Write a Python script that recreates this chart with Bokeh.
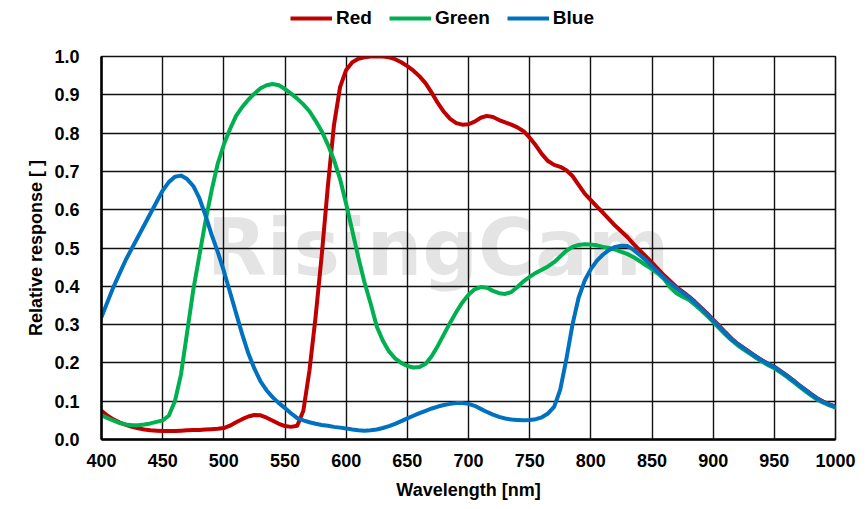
from bokeh.plotting import figure
from bokeh.layouts import column
from bokeh.models import Range1d, FixedTicker, Legend, LegendItem, Label, NumeralTickFormatter
from bokeh.embed import file_html
from bokeh.resources import INLINE

# wavelength sampling grid [nm]
wavelength = list(range(400, 1001, 5))

red = [
    0.075, 0.062, 0.052, 0.044, 0.038, 0.033, 0.029, 0.026, 0.024, 0.023,
    0.022, 0.022, 0.022, 0.023, 0.024, 0.025, 0.025, 0.026, 0.027, 0.028,
    0.030, 0.036, 0.045, 0.053, 0.060, 0.064, 0.063, 0.057, 0.049, 0.041,
    0.035, 0.033, 0.036, 0.075, 0.18, 0.32, 0.48, 0.66, 0.82, 0.92,
    0.965, 0.985, 0.994, 0.998, 1.0, 1.0, 1.0, 0.998, 0.993, 0.985,
    0.975, 0.963, 0.948, 0.93, 0.905, 0.878, 0.855, 0.837, 0.826, 0.822,
    0.823, 0.830, 0.840, 0.845, 0.842, 0.834, 0.828, 0.822, 0.815, 0.805,
    0.788, 0.768, 0.745, 0.727, 0.717, 0.712, 0.703, 0.688, 0.665, 0.642,
    0.625, 0.608, 0.592, 0.575, 0.558, 0.543, 0.528, 0.510, 0.494, 0.478,
    0.462, 0.445, 0.428, 0.413, 0.398, 0.386, 0.374, 0.360, 0.345, 0.330,
    0.313, 0.297, 0.280, 0.264, 0.250, 0.239, 0.228, 0.217, 0.207, 0.198,
    0.190, 0.179, 0.168, 0.156, 0.143, 0.131, 0.119, 0.108, 0.099, 0.092,
    0.086,
]

green = [
    0.063, 0.056, 0.049, 0.043, 0.039, 0.037, 0.037, 0.039, 0.042, 0.046,
    0.050, 0.062, 0.10, 0.17, 0.28, 0.39, 0.48, 0.57, 0.65, 0.72,
    0.77, 0.81, 0.845, 0.868, 0.887, 0.903, 0.917, 0.925, 0.928, 0.925,
    0.915, 0.903, 0.890, 0.875, 0.857, 0.832, 0.805, 0.77, 0.73, 0.68,
    0.615, 0.545, 0.475, 0.41, 0.355, 0.295, 0.258, 0.230, 0.212, 0.200,
    0.192, 0.188, 0.189, 0.198, 0.218, 0.245, 0.275, 0.305, 0.333, 0.358,
    0.378, 0.392, 0.398, 0.396, 0.388, 0.382, 0.380, 0.385, 0.398, 0.413,
    0.425, 0.435, 0.443, 0.452, 0.463, 0.478, 0.493, 0.503, 0.508, 0.510,
    0.509, 0.507, 0.503, 0.500, 0.496, 0.490, 0.484, 0.476, 0.466, 0.455,
    0.445, 0.433, 0.418, 0.397, 0.382, 0.373, 0.365, 0.352, 0.338, 0.323,
    0.307, 0.290, 0.274, 0.259, 0.246, 0.235, 0.224, 0.213, 0.203, 0.194,
    0.186, 0.175, 0.164, 0.152, 0.139, 0.127, 0.115, 0.104, 0.096, 0.089,
    0.083,
]

blue = [
    0.32, 0.36, 0.40, 0.435, 0.47, 0.50, 0.53, 0.56, 0.59, 0.62,
    0.65, 0.672, 0.686, 0.689, 0.680, 0.662, 0.630, 0.585, 0.535, 0.49,
    0.44, 0.385, 0.33, 0.275, 0.225, 0.185, 0.152, 0.128, 0.11, 0.095,
    0.082, 0.068, 0.056, 0.050, 0.045, 0.041, 0.038, 0.036, 0.033, 0.031,
    0.029, 0.026, 0.024, 0.023, 0.024, 0.026, 0.030, 0.035, 0.041, 0.048,
    0.055, 0.062, 0.069, 0.075, 0.081, 0.086, 0.090, 0.093, 0.095, 0.095,
    0.093, 0.088, 0.080, 0.072, 0.065, 0.059, 0.055, 0.052, 0.051, 0.050,
    0.051, 0.053, 0.058, 0.068, 0.085, 0.13, 0.21, 0.30, 0.37, 0.415,
    0.445, 0.467, 0.483, 0.495, 0.503, 0.506, 0.505, 0.495, 0.482, 0.468,
    0.452, 0.437, 0.422, 0.408, 0.395, 0.383, 0.372, 0.358, 0.343, 0.328,
    0.311, 0.295, 0.278, 0.262, 0.249, 0.238, 0.227, 0.216, 0.206, 0.197,
    0.189, 0.178, 0.167, 0.155, 0.142, 0.130, 0.118, 0.107, 0.098, 0.091,
    0.085,
]

x_ticks = [400, 450, 500, 550, 600, 650, 700, 750, 800, 850, 900, 950, 1000]
y_ticks = [0.0, 0.1, 0.2, 0.3, 0.4, 0.5, 0.6, 0.7, 0.8, 0.9, 1.0]
series_names = ["Red", "Green", "Blue"]
series_colors = ["#C00000", "#00B050", "#0070C0"]
series_values = [red, green, blue]

FONT = "Liberation Sans"
LINE_W = 4

# ---------- legend strip (separate figure so the legend is not clipped) ----------
leg_fig = figure(width=858, height=40, output_backend="svg", toolbar_location=None,
                 x_range=Range1d(0, 1), y_range=Range1d(0, 1),
                 x_axis_type=None, y_axis_type=None,
                 min_border_left=0, min_border_right=0, min_border_top=0, min_border_bottom=0,
                 outline_line_color=None, background_fill_color="white", border_fill_color="white")
leg_fig.xgrid.visible = False
leg_fig.ygrid.visible = False
leg_renderers = []
for ys, col in zip(series_values, series_colors):
    # same series, outside this strip's ranges: only used to style the legend swatches
    leg_renderers.append(leg_fig.line(wavelength, ys, line_color=col, line_width=LINE_W))

legend = Legend(items=[LegendItem(label=n, renderers=[r]) for n, r in zip(series_names, leg_renderers)],
                orientation="horizontal", location=(189, 11),
                border_line_color=None, background_fill_alpha=0,
                padding=0, margin=0, spacing=17, glyph_width=42, glyph_height=20,
                label_standoff=4, label_height=20,
                label_text_font=FONT, label_text_font_style="bold",
                label_text_font_size="19px", label_text_color="black")
leg_fig.add_layout(legend)

# ---------- main chart ----------
p = figure(width=858, height=467, output_backend="svg", toolbar_location=None,
           x_range=Range1d(400, 1000), y_range=Range1d(0, 1.0),
           min_border_left=101, min_border_right=23, min_border_top=16, min_border_bottom=68,
           background_fill_color="white", border_fill_color="white")

# watermark below the grid
wm = Label(x=675, y=0.50, text="RisingCam", text_font="DejaVu Sans", text_font_style="bold",
           text_font_size="78px", text_color="#e4e4e4", text_align="center",
           text_baseline="middle", level="image")
p.add_layout(wm)

for ys, col in zip(series_values, series_colors):
    p.line(wavelength, ys, line_color=col, line_width=LINE_W, line_join="round", line_cap="round")

p.xaxis.ticker = FixedTicker(ticks=x_ticks)
p.yaxis.ticker = FixedTicker(ticks=y_ticks)
p.xgrid.ticker = FixedTicker(ticks=x_ticks)
p.ygrid.ticker = FixedTicker(ticks=y_ticks)
p.yaxis.formatter = NumeralTickFormatter(format="0.0")

for g in (p.xgrid, p.ygrid):
    g.grid_line_color = "#111111"
    g.grid_line_width = 1.4

p.outline_line_color = "#111111"
p.outline_line_width = 1.6

for ax in (p.xaxis, p.yaxis):
    ax.axis_line_color = "black"
    ax.axis_line_width = 2.5
    ax.major_tick_line_color = None
    ax.minor_tick_line_color = None
    ax.major_tick_out = 0
    ax.major_tick_in = 0
    ax.major_label_text_font = FONT
    ax.major_label_text_font_style = "bold"
    ax.major_label_text_font_size = "18px"
    ax.major_label_text_color = "black"
    ax.axis_label_text_font = FONT
    ax.axis_label_text_font_style = "bold"
    ax.axis_label_text_font_size = "18px"
    ax.axis_label_text_color = "black"

p.xaxis.axis_label = "Wavelength [nm]"
p.yaxis.axis_label = "Relative response [ ]"
p.xaxis.major_label_standoff = 14
p.xaxis.axis_label_standoff = 10
p.yaxis.major_label_standoff = 22
p.yaxis.axis_label_standoff = 5

layout = column(leg_fig, p, spacing=0)
open("out.html", "w").write(file_html(layout, INLINE))
